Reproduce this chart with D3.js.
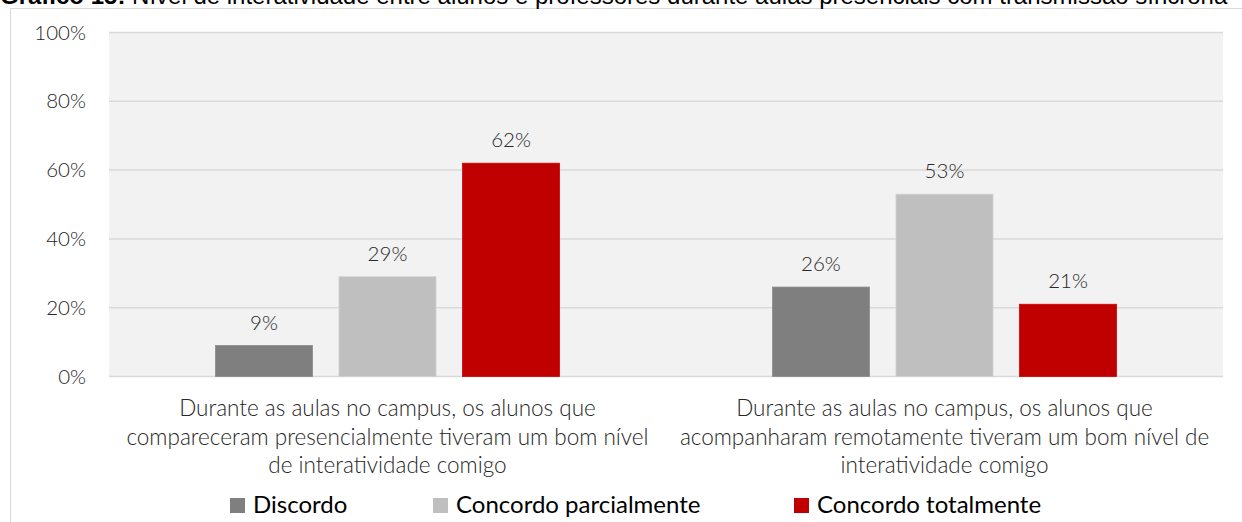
<!DOCTYPE html>
<html>
<head>
<meta charset="utf-8">
<script src="https://cdn.jsdelivr.net/npm/d3@7"></script>
<style>
  html, body { margin: 0; padding: 0; background: #fff; }
  svg { display: block; }
</style>
</head>
<body>
<svg width="1242" height="522"></svg>
<script>
// chart data
const title = 'Gráfico 15:'
const subtitle = ' Nível de interatividade entre alunos e professores durante aulas presenciais com transmissão síncrona'
const categories = [
  ['Durante as aulas no campus, os alunos que', 'compareceram presencialmente tiveram um bom nível', 'de interatividade comigo'],
  ['Durante as aulas no campus, os alunos que', 'acompanharam remotamente tiveram um bom nível de', 'interatividade comigo']
]
const seriesNames = ['Discordo', 'Concordo parcialmente', 'Concordo totalmente']
const seriesColors = ['#7f7f7f', '#bfbfbf', '#c00000']
const discordo = [9, 26]
const parcialmente = [29, 53]
const totalmente = [62, 21]
const yTicks = [0, 20, 40, 60, 80, 100]

const seriesValues = [discordo, parcialmente, totalmente]
const catIdx = categories.map((c, i) => i)

const svg = d3.select('svg')
const chartFont = 'Lato, "Open Sans", sans-serif'
const textColor = '#262626'

// outer frame of the chart object
svg.append('path')
  .attr('d', 'M10.5,522 V8.5 H1242')
  .attr('fill', 'none')
  .attr('stroke', '#d9d9d9')
  .attr('stroke-width', 1)

// caption, cut off at the top like the source
const cap = svg.append('text')
  .attr('x', 0)
  .attr('y', 4)
  .style('font-family', '"Liberation Sans", Arial, sans-serif')
  .style('font-size', '24px')
  .attr('fill', '#000')
cap.append('tspan').style('font-weight', 'bold').text(title)
cap.append('tspan').text(subtitle)

const plot = { left: 109, right: 1223, top: 32.5, bottom: 376.5 }

const x0 = d3.scaleBand()
  .domain(catIdx)
  .range([plot.left, plot.right])
  .padding(0)

const x1 = d3.scaleBand()
  .domain(d3.range(seriesNames.length))
  .range([0, x0.bandwidth()])
  .paddingInner(0.2146)
  .paddingOuter(0.862)

const y = d3.scaleLinear()
  .domain([0, 100])
  .range([plot.bottom, plot.top])

// plot background
svg.append('rect')
  .attr('x', plot.left)
  .attr('y', plot.top)
  .attr('width', plot.right - plot.left)
  .attr('height', plot.bottom - plot.top)
  .attr('fill', '#f2f2f2')

// gridlines
svg.append('g')
  .selectAll('line')
  .data(yTicks)
  .join('line')
  .attr('x1', plot.left)
  .attr('x2', plot.right)
  .attr('y1', d => y(d))
  .attr('y2', d => y(d))
  .attr('stroke', '#d9d9d9')
  .attr('stroke-width', 1.5)

// y axis labels
const yAxis = svg.append('g')
  .attr('transform', `translate(${plot.left},0)`)
  .call(d3.axisLeft(y).tickValues(yTicks).tickFormat(d => d + '%').tickSize(0).tickPadding(23))
yAxis.select('.domain').remove()
yAxis.selectAll('text')
  .style('font-family', chartFont)
  .style('font-size', '20.5px')
  .style('font-weight', 300)
  .attr('fill', textColor)

// bars
const groups = svg.append('g')
  .selectAll('g')
  .data(catIdx)
  .join('g')
  .attr('transform', d => `translate(${x0(d)},0)`)

const cells = groups.selectAll('g')
  .data(c => seriesValues.map((vals, s) => ({ s: s, v: vals[c] })))
  .join('g')

cells.append('rect')
  .attr('x', d => x1(d.s))
  .attr('y', d => y(d.v))
  .attr('width', x1.bandwidth())
  .attr('height', d => y(0) - y(d.v))
  .attr('fill', d => seriesColors[d.s])
  .attr('stroke', d => d3.color(seriesColors[d.s]).brighter(0.25))
  .attr('stroke-width', 0.8)

cells.append('text')
  .attr('x', d => x1(d.s) + x1.bandwidth() / 2)
  .attr('y', d => y(d.v) - 16)
  .attr('text-anchor', 'middle')
  .style('font-family', chartFont)
  .style('font-size', '20.5px')
  .style('font-weight', 300)
  .attr('fill', textColor)
  .text(d => d.v + '%')

// category labels
const catLabels = svg.append('g')
  .selectAll('text')
  .data(catIdx)
  .join('text')
  .attr('x', d => x0(d) + x0.bandwidth() / 2)
  .attr('y', 416)
  .attr('text-anchor', 'middle')
  .style('font-family', chartFont)
  .style('font-size', '22.5px')
  .style('font-weight', 300)
  .attr('fill', textColor)

catLabels.selectAll('tspan')
  .data(d => categories[d].map(line => ({ line: line, c: d })))
  .join('tspan')
  .attr('x', d => x0(d.c) + x0.bandwidth() / 2)
  .attr('dy', (d, i) => i === 0 ? 0 : 28.5)
  .text(d => d.line)

// legend
const legendX = [230, 433, 794]
const legend = svg.append('g')
  .selectAll('g')
  .data(seriesNames)
  .join('g')
  .attr('transform', (d, i) => `translate(${legendX[i]},498)`)

legend.append('rect')
  .attr('width', 15)
  .attr('height', 15)
  .attr('fill', (d, i) => seriesColors[i])

legend.append('text')
  .attr('x', 23)
  .attr('y', 15)
  .style('font-family', chartFont)
  .style('font-size', '24px')
  .attr('fill', '#000')
  .text(d => d)
</script>
</body>
</html>
